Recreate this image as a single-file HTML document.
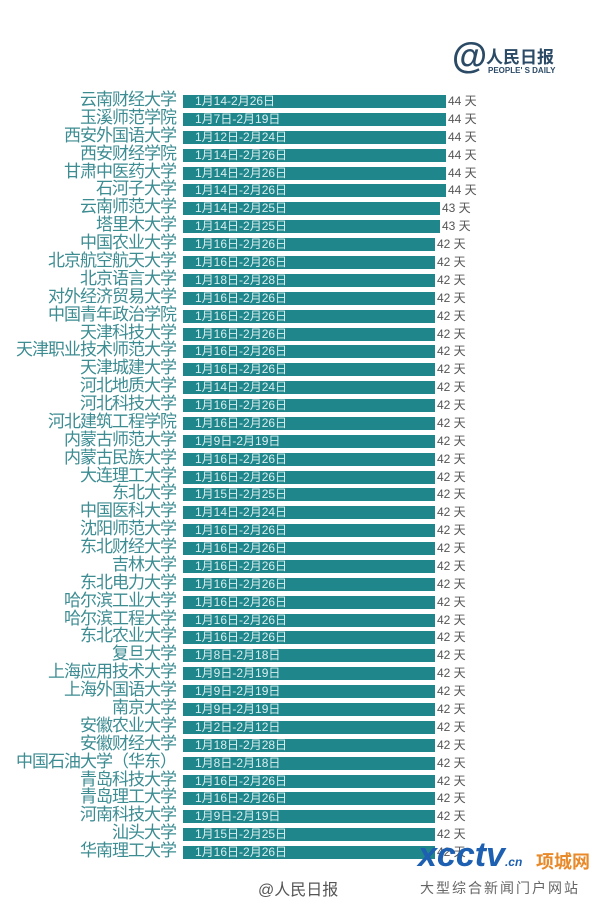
<!DOCTYPE html>
<html><head><meta charset="utf-8"><style>
body{margin:0;width:600px;height:897px;background:#fff;position:relative;overflow:hidden;font-family:"Liberation Sans","Noto Sans CJK SC",sans-serif}
.r{position:absolute;left:0;width:600px;height:18px}
.n{position:absolute;right:424px;top:-3px;font-size:17px;color:#3c8c92;white-space:nowrap;line-height:22px;letter-spacing:-1px}
.b{position:absolute;left:183px;top:3px;height:13px;background:#1f878b}
.d{position:absolute;left:195px;top:2px;font-size:12px;color:#d8eef0;line-height:15px;white-space:nowrap}
.v{position:absolute;top:1px;font-size:12px;color:#555;line-height:16px;white-space:nowrap}
</style></head><body>
<div style="position:absolute;left:452px;top:38px;font-size:36px;color:#2b4a66;font-weight:bold;line-height:36px">@</div>
<div style="position:absolute;left:486px;top:43px;font-size:17px;color:#2b4a66;font-weight:bold">人民日报</div>
<div style="position:absolute;left:488px;top:66px;font-size:8px;color:#2b4a66;font-weight:bold">PEOPLE' S DAILY</div>
<div id="c"></div>
<div style="position:absolute;left:258px;top:876px;font-size:16px;color:#555">@人民日报</div>
<div style="position:absolute;left:420px;top:878px;font-size:14px;color:#666;letter-spacing:2px">大型综合新闻门户网站</div>
<div style="position:absolute;left:418px;top:838px;font-size:34px;font-weight:bold;font-style:italic;color:#1d5fb0;line-height:34px">xcctv<span style="font-size:12px">.cn</span></div>
<div style="position:absolute;left:536px;top:848px;font-size:18px;font-weight:bold;color:#e8892a">项城网</div>
<script>
var d=[["云南财经大学","1月14-2月26日",44],["玉溪师范学院","1月7日-2月19日",44],["西安外国语大学","1月12日-2月24日",44],["西安财经学院","1月14日-2月26日",44],["甘肃中医药大学","1月14日-2月26日",44],["石河子大学","1月14日-2月26日",44],["云南师范大学","1月14日-2月25日",43],["塔里木大学","1月14日-2月25日",43],["中国农业大学","1月16日-2月26日",42],["北京航空航天大学","1月16日-2月26日",42],["北京语言大学","1月18日-2月28日",42],["对外经济贸易大学","1月16日-2月26日",42],["中国青年政治学院","1月16日-2月26日",42],["天津科技大学","1月16日-2月26日",42],["天津职业技术师范大学","1月16日-2月26日",42],["天津城建大学","1月16日-2月26日",42],["河北地质大学","1月14日-2月24日",42],["河北科技大学","1月16日-2月26日",42],["河北建筑工程学院","1月16日-2月26日",42],["内蒙古师范大学","1月9日-2月19日",42],["内蒙古民族大学","1月16日-2月26日",42],["大连理工大学","1月16日-2月26日",42],["东北大学","1月15日-2月25日",42],["中国医科大学","1月14日-2月24日",42],["沈阳师范大学","1月16日-2月26日",42],["东北财经大学","1月16日-2月26日",42],["吉林大学","1月16日-2月26日",42],["东北电力大学","1月16日-2月26日",42],["哈尔滨工业大学","1月16日-2月26日",42],["哈尔滨工程大学","1月16日-2月26日",42],["东北农业大学","1月16日-2月26日",42],["复旦大学","1月8日-2月18日",42],["上海应用技术大学","1月9日-2月19日",42],["上海外国语大学","1月9日-2月19日",42],["南京大学","1月9日-2月19日",42],["安徽农业大学","1月2日-2月12日",42],["安徽财经大学","1月18日-2月28日",42],["中国石油大学（华东）","1月8日-2月18日",42],["青岛科技大学","1月16日-2月26日",42],["青岛理工大学","1月16日-2月26日",42],["河南科技大学","1月9日-2月19日",42],["汕头大学","1月15日-2月25日",42],["华南理工大学","1月16日-2月26日",42]];
var h="",p=(852-101)/(d.length-1);
d.forEach(function(e,i){var y=101+i*p-9;var w=e[2]==44?263:e[2]==43?257:252;
h+='<div class="r" style="top:'+y.toFixed(1)+'px"><div class="n">'+e[0]+'</div><div class="b" style="width:'+w+'px"></div><div class="d">'+e[1]+'</div><div class="v" style="left:'+(183+w+2)+'px">'+e[2]+' 天</div></div>';});
document.getElementById("c").innerHTML=h;
</script>
</body></html>
